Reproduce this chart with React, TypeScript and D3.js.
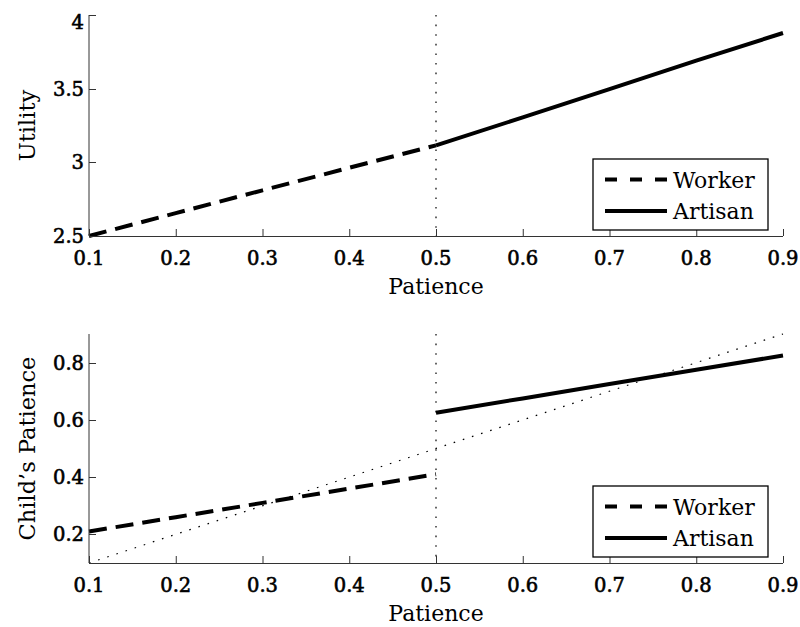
import React from 'react'
import * as d3 from 'd3'

// patience grid points (x) and read-off values
const workerPatience = [0.1, 0.2, 0.3, 0.4, 0.5]
const artisanPatience = [0.5, 0.6, 0.7, 0.8, 0.9]
const workerUtility = [2.5, 2.655, 2.81, 2.963, 3.115]
const artisanUtility = [3.115, 3.305, 3.497, 3.69, 3.878]
const workerChild = [0.21, 0.26, 0.31, 0.36, 0.41]
const artisanChild = [0.625, 0.675, 0.725, 0.775, 0.825]
const diagonal = [0.1, 0.9]
const threshold = 0.5

const xTicks = [0.1, 0.2, 0.3, 0.4, 0.5, 0.6, 0.7, 0.8, 0.9]
const utilityTicks = [2.5, 3, 3.5, 4]
const childTicks = [0.2, 0.4, 0.6, 0.8]
const legendLabels = ['Worker', 'Artisan']

const W = 800
const H = 627
const FONT = '"DejaVu Serif", serif'
const DASH = '18 9'
const DOT = '1.6 8'

interface PanelProps {
  top: number
  bottom: number
  yDomain: [number, number]
  yTicks: number[]
  yFormat: (v: number) => string
  yLabel: string
  worker: number[]
  artisan: number[]
  showDiagonal: boolean
}

function Panel ({ top, bottom, yDomain, yTicks, yFormat, yLabel, worker, artisan, showDiagonal }: PanelProps) {
  const x = d3.scaleLinear().domain([0.1, 0.9]).range([89, 783])
  const y = d3.scaleLinear().domain(yDomain).range([bottom, top])
  const line = d3.line<[number, number]>()
    .x(d => x(d[0]))
    .y(d => y(d[1]))
  const workerPts = workerPatience.map((p, i) => [p, worker[i]] as [number, number])
  const artisanPts = artisanPatience.map((p, i) => [p, artisan[i]] as [number, number])
  const diagPts = diagonal.map(v => [v, v] as [number, number])
  const [x0, x1] = x.range()
  const axisColor = '#333'
  const fmtX = d3.format('.1f')

  // legend box sits in the lower right corner
  const boxR = x1 - 15
  const boxB = bottom - 6
  const boxW = 175
  const boxH = 71
  const rows = [boxB - boxH + 20.5, boxB - boxH + 52]

  return (
    <g>
      <line x1={x(threshold)} x2={x(threshold)} y1={top} y2={bottom}
        stroke="#000" strokeWidth={1.2} strokeDasharray={DOT} />
      {showDiagonal && (
        <path d={line(diagPts) || ''} fill="none" stroke="#000" strokeWidth={1.2} strokeDasharray={DOT} />
      )}
      <path d={line(workerPts) || ''} fill="none" stroke="#000" strokeWidth={4} strokeDasharray={DASH} />
      <path d={line(artisanPts) || ''} fill="none" stroke="#000" strokeWidth={4} />

      <line x1={x0} x2={x0} y1={top} y2={bottom} stroke={axisColor} />
      <line x1={x0} x2={x1} y1={bottom + 0.5} y2={bottom + 0.5} stroke={axisColor} />
      {xTicks.map(t => (
        <g key={t}>
          <line x1={x(t) + 0.5} x2={x(t) + 0.5} y1={bottom} y2={bottom - 7} stroke={axisColor} />
          <text x={x(t)} y={bottom + 29} textAnchor="middle" fontSize={19.5}
            fontFamily={FONT} stroke="#000" strokeWidth={0.6}>{fmtX(t)}</text>
        </g>
      ))}
      {yTicks.map((t, i) => (
        <g key={t}>
          <line x1={x0} x2={x0 + 7} y1={Math.round(y(t)) + 0.5} y2={Math.round(y(t)) + 0.5} stroke={axisColor} />
          <text x={x0 - 5} y={y(t) + (i === yTicks.length - 1 && y(t) < 20 ? 14 : 7)} textAnchor="end" fontSize={19.5}
            fontFamily={FONT} stroke="#000" strokeWidth={0.6}>{yFormat(t)}</text>
        </g>
      ))}
      <text x={(x0 + x1) / 2} y={bottom + 58} textAnchor="middle" fontSize={22} fontFamily={FONT}>Patience</text>
      <text transform={`translate(35, ${(top + bottom) / 2}) rotate(-90)`} textAnchor="middle"
        fontSize={22.5} fontFamily={FONT}>{yLabel}</text>

      <rect x={boxR - boxW} y={boxB - boxH} width={boxW} height={boxH} fill="#fff" stroke="#000" strokeWidth={1.3} />
      {legendLabels.map((label, i) => (
        <g key={label}>
          <line x1={boxR - boxW + 12} x2={boxR - boxW + 74} y1={rows[i]} y2={rows[i]}
            stroke="#000" strokeWidth={4} strokeDasharray={i === 0 ? '12 13' : undefined} />
          <text x={boxR - boxW + 80} y={rows[i] + 8} fontSize={22} fontFamily={FONT}>{label}</text>
        </g>
      ))}
    </g>
  )
}

export default function App () {
  return (
    <svg width={W} height={H} viewBox={`0 0 ${W} ${H}`}
      style={{ position: 'absolute', left: 0, top: 0, background: '#fff' }}>
      <rect width={W} height={H} fill="#fff" />
      <Panel top={15} bottom={236} yDomain={[2.5, 4]} yTicks={utilityTicks} yFormat={d3.format('~g')}
        yLabel="Utility" worker={workerUtility} artisan={artisanUtility} showDiagonal={false} />
      <Panel top={334} bottom={563} yDomain={[0.1, 0.9]} yTicks={childTicks} yFormat={d3.format('.1f')}
        yLabel="Child’s Patience" worker={workerChild} artisan={artisanChild} showDiagonal />
    </svg>
  )
}
